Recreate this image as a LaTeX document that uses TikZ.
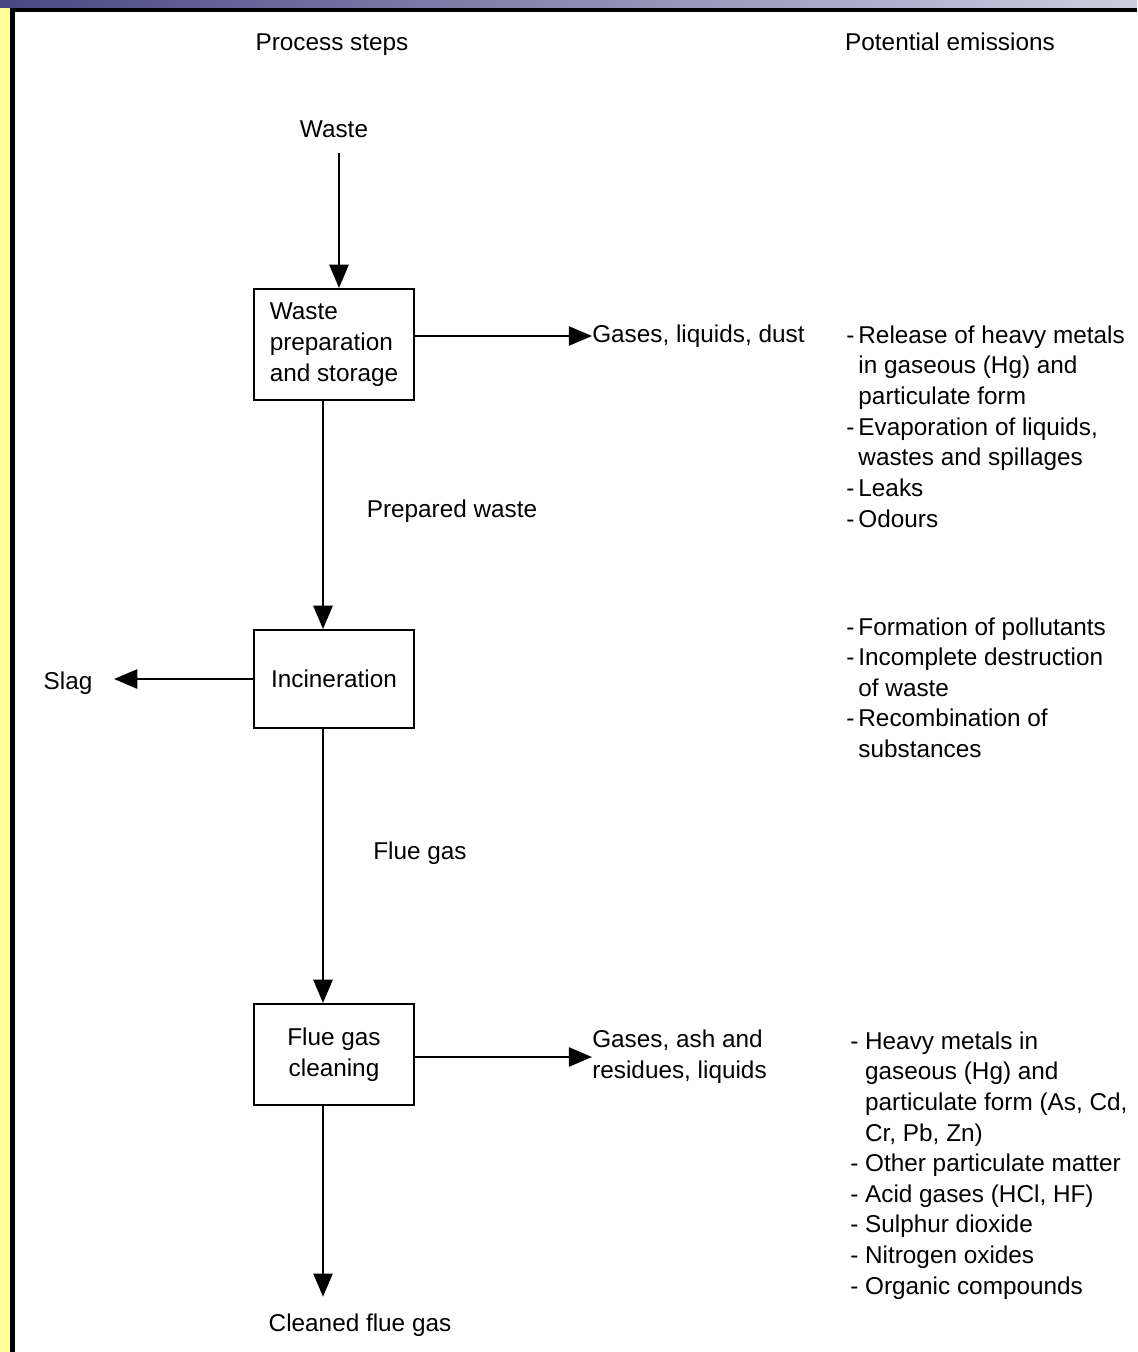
\documentclass[tikz,border=0pt]{standalone}
\usepackage{fontspec}
\setmainfont{Liberation Sans}
\usetikzlibrary{arrows.meta,calc}

\definecolor{slideyellow}{HTML}{FFFF99}
\definecolor{barleft}{RGB}{72,72,132}
\definecolor{barright}{RGB}{205,205,225}

\begin{document}
\begin{tikzpicture}[x=0.025cm,y=-0.025cm,
    every node/.style={font=\fontsize{17.3pt}{21.8pt}\selectfont},
    stepbox/.style={draw, line width=1.5pt, minimum width=4cm, align=left},
    flow/.style={line width=1.5pt, -{Triangle[length=0.58cm,width=0.48cm]}},
    label/.style={text height=12.5pt, text depth=3.6pt},
    emis/.style={label, anchor=west, inner sep=0pt},
    outtext/.style={anchor=west, inner sep=0pt, align=left}]

    % Slide frame
    \useasboundingbox (0,0) rectangle (1137,1352);
    \fill[white] (0,0) rectangle (1137,1352);
    \shade[left color=barleft, right color=barright] (0,0) rectangle (1137,8);
    \fill[slideyellow] (0,8) rectangle (10,1352);
    \fill[black] (10,8) rectangle (1137,12);
    \fill[black] (10,8) rectangle (15,1352);

    % Column headings
    \node[label] (hsteps) at (332,44) {Process steps};
    \node[label] (hemis) at (950,44) {Potential emissions};

    % Process steps
    \node[label] (waste) at (334,131) {Waste};
    \node[stepbox, minimum height=2.775cm] (prep) at (334,344.5) {Waste\\preparation\\and storage};
    \node[stepbox, minimum height=2.45cm] (incin) at (334,679) {Incineration};
    \node[stepbox, minimum height=2.525cm, align=center] (clean) at (334,1054.5) {Flue gas\\cleaning};
    \node[label] (cleaned) at (360,1325) {Cleaned flue gas};

    % Main flow
    \coordinate (feed) at (339,0);
    \coordinate (axis) at (323,0);
    \draw[flow, shorten <=0.15cm] (waste.south -| feed) -- (prep.north -| feed);
    \draw[flow] (prep.south -| axis) -- (incin.north -| axis);
    \draw[flow] (incin.south -| axis) -- (clean.north -| axis);
    \draw[flow, shorten >=0.3cm] (clean.south -| axis) -- (cleaned.north -| axis);

    \node[label] (prepw) at (452,511) {Prepared waste};
    \node[label] (flueg) at (420,853) {Flue gas};

    % Side outputs
    \node[emis] (gases) at (592,336) {Gases, liquids, dust};
    \node[outtext] (resid) at (592,1057) {Gases, ash and\\residues, liquids};
    \node[label] (slag) at (68,683) {Slag};
    \draw[flow] (prep.east |- gases.west) -- (gases.west);
    \draw[flow] (clean.east |- resid.west) -- (resid.west);
    \draw[flow, shorten >=0.42cm] (incin.west) -- (slag.east |- incin.west);

    % Potential emissions
    \foreach \t [count=\i] in {{-\,Release of heavy metals},
        {\phantom{-\,}in gaseous (Hg) and},
        {\phantom{-\,}particulate form},
        {-\,Evaporation of liquids,},
        {\phantom{-\,}wastes and spillages},
        {-\,Leaks},
        {-\,Odours}} {
        \node[emis] (pa\i) at (846,{337+30.67*(\i-1)}) {\t};
    }
    \foreach \t [count=\i] in {{-\,Formation of pollutants},
        {-\,Incomplete destruction},
        {\phantom{-\,}of waste},
        {-\,Recombination of},
        {\phantom{-\,}substances}} {
        \node[emis] (pb\i) at (846,{629+30.5*(\i-1)}) {\t};
    }
    \foreach \t [count=\i] in {{- Heavy metals in},
        {\phantom{- }gaseous (Hg) and},
        {\phantom{- }particulate form (As, Cd,},
        {\phantom{- }Cr, Pb, Zn)},
        {- Other particulate matter},
        {- Acid gases (HCl, HF)},
        {- Sulphur dioxide},
        {- Nitrogen oxides},
        {- Organic compounds}} {
        \node[emis] (pc\i) at (850,{1043+30.6*(\i-1)}) {\t};
    }
\end{tikzpicture}
\end{document}
